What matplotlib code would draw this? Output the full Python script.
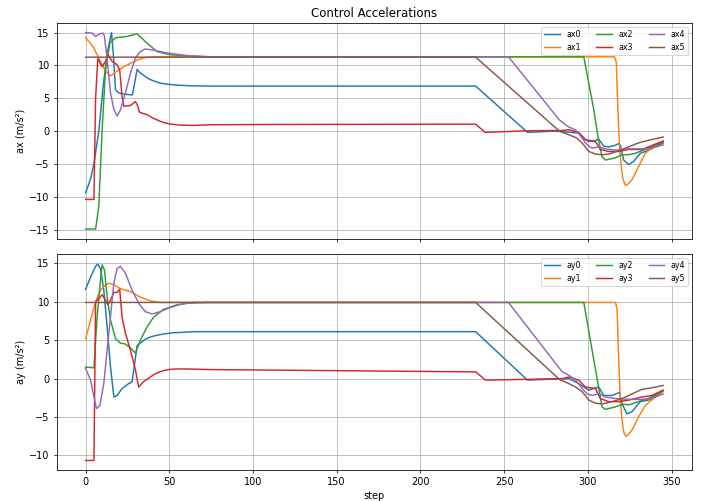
import matplotlib
matplotlib.use("Agg")
import matplotlib.pyplot as plt

# ---- data (step, value) ----
ax0_x = [0, 3, 5, 8, 10.5, 13, 15.5, 16.5, 17.9, 19.8, 24, 28, 30.8, 32.5, 36.7, 40, 44.6, 50, 54.6, 62, 74, 233, 264, 280, 294.6, 297.6, 300.6, 304, 306.5, 309.5, 312.5, 316, 318.5, 319.5, 321.4, 324.4, 327.4, 331.3, 336.3, 345]
ax0_y = [-9.4, -7.3, -5.0, 0.2, 6.8, 12.0, 15.0, 12.0, 6.3, 5.8, 5.6, 5.5, 9.4, 8.9, 8.1, 7.7, 7.3, 7.1, 7.0, 6.9, 6.85, 6.85, -0.2, 0.0, -0.3, -1.1, -1.6, -1.5, -1.2, -2.3, -2.4, -2.2, -1.9, -2.2, -4.4, -5.1, -4.6, -3.4, -2.9, -1.8]

ax1_x = [0, 2.5, 5, 7.5, 9.9, 12, 13.9, 14.9, 17, 19.8, 23, 26.8, 30, 32.7, 36, 40.7, 50, 316, 317, 318, 319, 320, 321, 322.5, 324, 326.4, 330.3, 334.3, 339.2, 345]
ax1_y = [14.2, 13.5, 12.6, 11.3, 10.1, 9.1, 8.6, 8.4, 8.8, 9.3, 9.8, 10.3, 10.7, 11.0, 11.2, 11.3, 11.3, 11.3, 10.5, 3.0, -2.5, -5.5, -7.3, -8.3, -8.1, -7.4, -5.4, -3.4, -2.3, -1.6]

ax2_x = [0, 6, 7.9, 9.9, 11.9, 14.5, 17.9, 24.8, 30.8, 36.7, 42.7, 50.6, 64.5, 74.4, 297.6, 303.6, 306.5, 308.5, 310.5, 316.2, 320.2, 324.2, 328.2, 334.1, 345]
ax2_y = [-14.9, -14.9, -11.5, 0.2, 9.3, 13.4, 14.2, 14.4, 14.8, 13.4, 12.1, 11.6, 11.4, 11.3, 11.3, 3.2, -1.5, -3.9, -4.4, -4.1, -3.6, -3.6, -3.4, -2.8, -1.7]

ax3_x = [0, 5, 6, 7.3, 9.9, 11.9, 13.5, 15.9, 18.8, 20.4, 21.8, 22.8, 26.8, 29.8, 31.2, 32.1, 34, 36.7, 40, 42.7, 46, 50.6, 56, 64.5, 74.4, 100, 233, 238.7, 263.9, 285, 288.7, 294.6, 298.6, 304.6, 307.5, 312.5, 318.5, 324.4, 332.3, 338.2, 345]
ax3_y = [-10.4, -10.4, 5.0, 11.0, 9.8, 10.6, 11.6, 10.6, 10.1, 9.3, 5.3, 3.8, 3.9, 4.5, 3.8, 2.9, 2.7, 2.5, 2.0, 1.7, 1.35, 1.06, 0.92, 0.86, 0.96, 1.0, 1.05, -0.2, 0.05, 0.1, 0.2, -0.2, -1.3, -1.6, -2.8, -3.1, -3.1, -2.8, -2.8, -2.2, -1.5]

ax4_x = [0, 4, 6, 8.5, 10.5, 11.3, 12.9, 14.9, 16.9, 18.8, 20.8, 23.8, 26.8, 29.8, 32.7, 35.7, 40.7, 48.6, 60.5, 74.4, 252.6, 283, 288.7, 292.7, 296.6, 299.6, 302.6, 306.5, 310.5, 316.5, 324.4, 336.3, 345]
ax4_y = [15.0, 14.9, 14.4, 14.8, 14.9, 14.4, 10.9, 5.8, 3.3, 2.3, 3.2, 5.8, 8.8, 11.1, 12.1, 12.5, 12.3, 11.9, 11.5, 11.3, 11.3, 1.7, 0.6, 0.2, -1.07, -2.1, -2.6, -2.4, -2.7, -2.9, -2.7, -2.7, -2.1]

ax5_x = [0, 233, 283, 288, 293, 296.6, 300.6, 304.6, 308.5, 312.5, 318.5, 324.4, 330.3, 336.3, 345]
ax5_y = [11.25, 11.25, 0.0, -0.5, -1.0, -1.8, -3.1, -3.5, -3.6, -3.5, -3.0, -2.4, -1.8, -1.4, -0.9]

ay0_x = [0, 3, 6, 7.3, 8.9, 10.9, 12.9, 14.9, 16.9, 18.8, 21.8, 25.8, 27.8, 30.8, 33.7, 36, 38.7, 42, 46.6, 52, 56.5, 65, 74.4, 233, 263.9, 288.7, 294.6, 297.6, 300.6, 306.5, 309.5, 314.5, 318.9, 320.5, 323.4, 326.4, 331.3, 336.3, 345]
ay0_y = [11.6, 13.2, 14.6, 14.9, 14.3, 11.5, 6.7, 1.5, -2.4, -2.2, -1.3, -0.65, -0.43, 4.3, 4.8, 5.15, 5.4, 5.6, 5.8, 5.95, 6.0, 6.1, 6.1, 6.1, -0.2, 0.0, -0.66, -1.1, -1.5, -1.1, -2.2, -2.2, -1.8, -3.3, -4.6, -4.3, -3.0, -2.8, -1.6]

ay1_x = [0, 3, 6, 8.9, 11.9, 13.9, 16.9, 20.8, 26.8, 32.7, 38.7, 44.6, 55, 316.5, 317.5, 318.5, 319.5, 320.5, 321.5, 322.8, 324.2, 326.4, 330.3, 334.3, 339.2, 345]
ay1_y = [5.2, 7.6, 10.0, 11.5, 12.2, 12.4, 12.2, 11.7, 11.3, 10.6, 10.1, 9.9, 9.9, 9.9, 9.0, 2.0, -3.0, -5.5, -7.0, -7.5, -7.3, -6.7, -5.0, -3.5, -2.6, -1.7]

ay2_x = [0, 5, 6.9, 8.9, 9.9, 11.3, 12.9, 14.9, 17.9, 20.8, 23.8, 26.8, 29.8, 32.7, 36.7, 40.7, 46.6, 54.6, 64.5, 74.4, 297.6, 303.6, 308.5, 310.5, 316.2, 321, 325, 330, 336, 345]
ay2_y = [1.5, 1.4, 8.0, 12.8, 14.8, 14.1, 10.6, 7.6, 5.2, 4.6, 4.5, 4.0, 3.3, 5.0, 6.7, 8.0, 9.0, 9.6, 9.9, 9.9, 9.9, 2.4, -3.7, -4.0, -3.7, -3.35, -3.4, -3.0, -2.6, -1.6]

ay3_x = [0, 5, 6, 7.9, 9.9, 11.9, 13.3, 14.9, 16.9, 18.8, 20.4, 21.8, 23.8, 26.8, 29.8, 31.7, 34.7, 38.7, 41, 44.6, 47, 50.6, 55, 60.5, 74.4, 233, 238.9, 263.9, 285, 288.7, 294.6, 298.6, 304.6, 307.5, 312.5, 318.5, 324.4, 332.3, 338.2, 345]
ay3_y = [-10.65, -10.65, 10.0, 10.4, 10.9, 10.2, 9.6, 10.2, 11.2, 11.2, 11.6, 8.0, 5.9, 3.7, 1.1, -1.1, -0.4, 0.2, 0.55, 0.9, 1.05, 1.2, 1.25, 1.25, 1.17, 0.87, -0.2, -0.1, 0.0, 0.2, -0.2, -1.1, -1.3, -2.6, -3.0, -3.0, -2.8, -2.4, -2.2, -1.5]

ay4_x = [0, 3, 5, 6.5, 8.5, 10.9, 13.9, 16.9, 18.8, 20.8, 23.8, 27.8, 31.7, 35.7, 39.7, 44.6, 50.6, 55, 60.5, 74.4, 252.6, 284.6, 288.7, 292.7, 296.6, 299.6, 302.6, 306.5, 310.5, 316.5, 324.4, 332, 338, 345]
ay4_y = [1.3, -0.2, -2.4, -3.9, -3.5, -0.65, 5.9, 12.4, 14.3, 14.6, 13.7, 11.5, 9.8, 8.7, 8.4, 8.7, 9.25, 9.55, 9.8, 9.9, 9.9, 0.9, 0.43, -0.2, -1.3, -2.0, -2.2, -1.96, -2.4, -2.6, -2.7, -2.7, -2.6, -2.0]

ay5_x = [0, 233, 283, 288.7, 292.7, 296.6, 300.6, 304.6, 308.5, 314.5, 320.5, 326.4, 332.3, 338.2, 345]
ay5_y = [9.9, 9.9, -0.1, -0.66, -1.1, -1.7, -2.8, -3.2, -3.3, -3.0, -2.6, -2.0, -1.4, -1.2, -0.9]

ax_series = [(ax0_x, ax0_y), (ax1_x, ax1_y), (ax2_x, ax2_y), (ax3_x, ax3_y), (ax4_x, ax4_y), (ax5_x, ax5_y)]
ay_series = [(ay0_x, ay0_y), (ay1_x, ay1_y), (ay2_x, ay2_y), (ay3_x, ay3_y), (ay4_x, ay4_y), (ay5_x, ay5_y)]
ax_labels = ["ax0", "ax1", "ax2", "ax3", "ax4", "ax5"]
ay_labels = ["ay0", "ay1", "ay2", "ay3", "ay4", "ay5"]

fig, (a1, a2) = plt.subplots(2, 1, sharex=True, figsize=(10, 501 / 70.5), dpi=70.5)
fig.subplots_adjust(left=0.0804, right=0.9816, top=0.9547, bottom=0.0613, hspace=0.071)

for (xs, ys), lab in zip(ax_series, ax_labels):
    a1.plot(xs, ys, label=lab)
for (xs, ys), lab in zip(ay_series, ay_labels):
    a2.plot(xs, ys, label=lab)

a1.set_title("Control Accelerations")
a1.set_ylabel("ax (m/s²)")
a2.set_ylabel("ay (m/s²)")
a2.set_xlabel("step")
for a in (a1, a2):
    a.grid(True)
    a.legend(loc="upper right", ncol=3, fontsize=8)

fig.savefig("out.png", dpi=70.5)
